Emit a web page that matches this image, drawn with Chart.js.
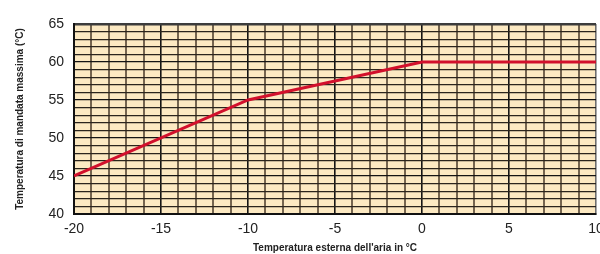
<!DOCTYPE html>
<html>
<head>
<meta charset="utf-8">
<script src="https://cdn.jsdelivr.net/npm/chart.js@4"></script>
<style>
    html, body { margin: 0; padding: 0; background: #ffffff; }
    #wrap { width: 600px; height: 254px; }
</style>
</head>
<body>
<div id="wrap"><canvas id="curveChart" width="600" height="254"></canvas></div>
<script>
// outside air temperature (°C) vs max flow temperature (°C)
const outsideTemps = [-20, -10, 0, 10];
const flowTemps = [45, 55, 60, 60];

const xTickLabels = [-20, -15, -10, -5, 0, 5, 10];
const yTickLabels = [40, 45, 50, 55, 60, 65];

const xRange = [-20, 10];
const yRange = [40, 65];

const plotBackground = {
    id: "plotBackground",
    beforeDraw(chart) {
        const { ctx, chartArea } = chart;
        ctx.save();
        ctx.fillStyle = "#fce9c2";
        ctx.fillRect(chartArea.left, chartArea.top,
            chartArea.right - chartArea.left, chartArea.bottom - chartArea.top);
        ctx.restore();
    }
};

const xGridColor = (ctx) => {
    const v = ctx.tick ? ctx.tick.value : 0;
    if (v === xRange[1]) return "#6f6f6f";
    return xTickLabels.includes(v) ? "#141414" : "#75654f";
};

const yGridColor = (ctx) => {
    const v = ctx.tick ? ctx.tick.value : 0;
    if (v === yRange[1]) return "#3c3c3c";
    return yTickLabels.includes(v) ? "#141414" : "#2a241c";
};

const ctx = document.getElementById("curveChart").getContext("2d");

new Chart(ctx, {
    type: "line",
    data: {
        datasets: [
            {
                label: "Temperatura di mandata massima",
                data: outsideTemps.map((x, i) => ({ x, y: flowTemps[i] })),
                borderColor: "#d2102c",
                borderWidth: 3,
                pointRadius: 0,
                tension: 0,
                fill: false
            }
        ]
    },
    options: {
        responsive: false,
        animation: false,
        layout: {
            padding: { top: 24, right: 4, left: 0, bottom: 0 }
        },
        scales: {
            x: {
                type: "linear",
                min: xRange[0],
                max: xRange[1],
                afterFit: (scale) => {
                    scale.height = 40;
                    scale.paddingLeft = 0;
                    scale.paddingRight = 0;
                },
                ticks: {
                    stepSize: 1,
                    autoSkip: false,
                    maxRotation: 0,
                    padding: 7,
                    color: "#222222",
                    font: { family: "'Liberation Sans', Arial, sans-serif", size: 14 },
                    callback: (value) => xTickLabels.includes(value) ? String(value) : ""
                },
                grid: {
                    drawTicks: false,
                    color: xGridColor,
                    lineWidth: (c) => (c.tick && xTickLabels.includes(c.tick.value)) ? 1.6 : 2
                },
                border: { color: "#111111", width: 2 },
                title: {
                    display: true,
                    text: "Temperatura esterna dell'aria in °C",
                    color: "#222222",
                    padding: { top: 0, bottom: 0 },
                    font: { family: "'Liberation Sans', Arial, sans-serif", size: 10, weight: "bold" }
                }
            },
            y: {
                min: yRange[0],
                max: yRange[1],
                afterFit: (scale) => { scale.width = 74; },
                ticks: {
                    stepSize: 1,
                    autoSkip: false,
                    padding: 10,
                    color: "#222222",
                    font: { family: "'Liberation Sans', Arial, sans-serif", size: 14 },
                    callback: (value) => yTickLabels.includes(value) ? String(value) : ""
                },
                grid: {
                    drawTicks: false,
                    color: yGridColor,
                    lineWidth: (c) => (c.tick && c.tick.value === yRange[1]) ? 2.5 : 1.3
                },
                border: { color: "#111111", width: 2 },
                title: {
                    display: true,
                    text: "Temperatura di mandata massima (°C)",
                    color: "#222222",
                    padding: { top: 14, bottom: 0 },
                    font: { family: "'Liberation Sans', Arial, sans-serif", size: 10, weight: "bold" }
                }
            }
        },
        plugins: {
            legend: { display: false },
            tooltip: { enabled: false }
        }
    },
    plugins: [plotBackground]
});
</script>
</body>
</html>
